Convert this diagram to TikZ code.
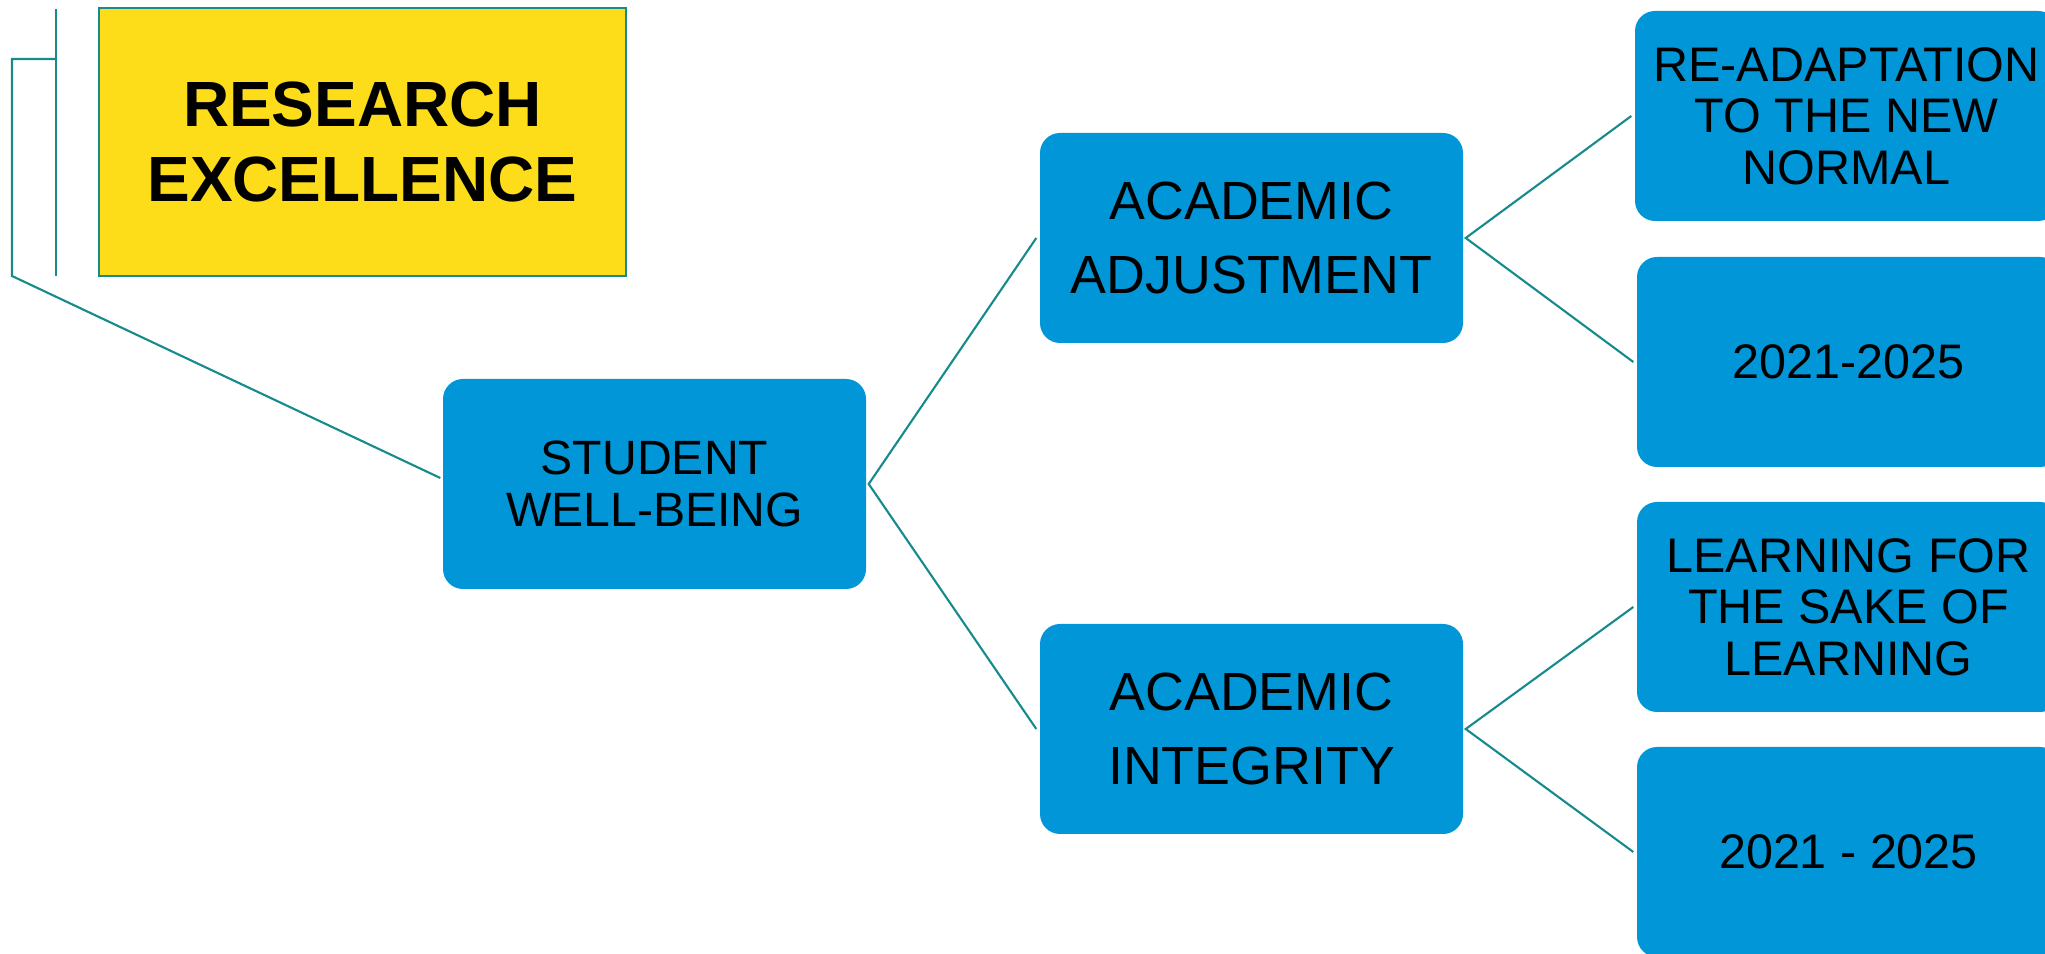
\documentclass[tikz,border=0pt]{standalone}
\usepackage{fontspec}
\setmainfont{Liberation Sans}
\usepackage[HTML]{xcolor}
\usepackage{tikz}
\usetikzlibrary{positioning, calc}

\definecolor{boxblue}{HTML}{0096D8}
\definecolor{boxyellow}{HTML}{FDDC1A}
\definecolor{linkteal}{HTML}{168A8C}

\begin{document}
\begin{tikzpicture}[
  box/.style={draw=none, fill=boxblue, rounded corners=2mm, minimum width=4.23cm,
    minimum height=2.10cm, align=center, inner sep=0pt},
  link/.style={draw=linkteal, line width=0.6pt},
  midtext/.style={font=\fontsize{15.3}{21.3}\selectfont},
  leaftext/.style={font=\fontsize{13.8}{14.7}\selectfont}]
\useasboundingbox (0,0) rectangle (20.45,-9.54);
\clip (0,0) rectangle (20.45,-9.54);

% Top-level (yellow) box
\node[draw=linkteal, line width=0.7pt, fill=boxyellow, minimum width=5.27cm, minimum height=2.68cm,
  align=center, inner sep=0pt, font=\bfseries\fontsize{18.2}{21.3}\selectfont]
  (research) at (3.625,-1.42) {RESEARCH\\EXCELLENCE};

% Levels
\node[box, font=\fontsize{13.7}{14.8}\selectfont] (student) at (6.545,-4.84) {STUDENT\\WELL-BEING};
\node[box, midtext] (adjust) at (12.515,-2.38) {ACADEMIC\\ADJUSTMENT};
\node[box, midtext] (integrity) at (12.515,-7.29) {ACADEMIC\\INTEGRITY};
\node[box, leaftext] (readapt) at (18.465,-1.16) {RE-ADAPTATION\\TO THE NEW\\NORMAL};
\node[box, leaftext] (yearsA) at (18.485,-3.62) {2021-2025};
\node[box, leaftext] (learning) at (18.485,-6.07) {LEARNING FOR\\THE SAKE OF\\LEARNING};
\node[box, leaftext] (yearsB) at (18.485,-8.52) {2021 - 2025};

% Bracket at the left
\coordinate (brtop) at (0.56,-0.09);
\coordinate (brbot) at (0.56,-2.76);
\coordinate (brjoin) at (0.56,-0.59);
\coordinate (brcorner) at (0.12,-0.59);
\coordinate (brfoot) at (0.12,-2.76);
\draw[link] (brtop) -- (brbot);
\draw[link] (brjoin) -- (brcorner) -- (brfoot) -- ($(student.west)+(-0.02,0.06)$);

% Connectors
\draw[link] ($(adjust.west)+(-0.03,0)$) -- ($(student.east)+(0.02,0)$) -- ($(integrity.west)+(-0.03,0)$);
\draw[link] ($(readapt.west)+(-0.03,0)$) -- ($(adjust.east)+(0.02,0)$) -- ($(yearsA.west)+(-0.03,0)$);
\draw[link] ($(learning.west)+(-0.03,0)$) -- ($(integrity.east)+(0.02,0)$) -- ($(yearsB.west)+(-0.03,0)$);
\end{tikzpicture}
\end{document}
